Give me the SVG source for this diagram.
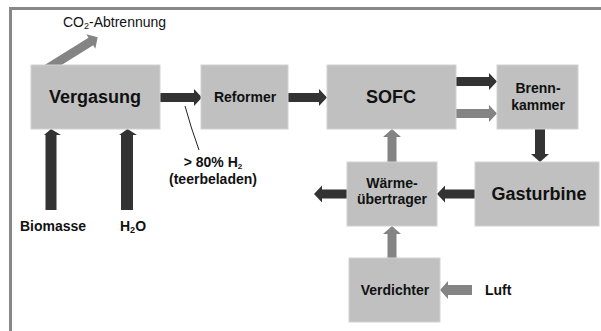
<svg xmlns="http://www.w3.org/2000/svg" width="601" height="331" viewBox="0 0 601 331">
<style>
.box{fill:#c0c0c0;stroke:#d2d2d2;stroke-width:1}
.t{font-family:"Liberation Sans",Arial,sans-serif;font-weight:bold;fill:#111;text-anchor:middle}
.big{font-size:18px}
.sm{font-size:14px}
.dark{fill:#333}
.gray{fill:#848484}
</style>
<rect width="601" height="331" fill="#fff"/>
<g id="frame" fill="#888">
<rect x="9" y="7" width="592" height="3"/>
<rect x="9" y="7" width="3" height="324"/>
</g>
<g id="connectors">
<path class="dark" d="M160,93 H194 V89 L202,97.5 L194,106 V102 H160 Z"/>
<path class="dark" d="M288,93 H319 V89 L327,97.5 L319,106 V102 H288 Z"/>
<path class="dark" d="M456,77 H489 V73 L497,81.5 L489,90 V86 H456 Z"/>
<path class="gray" d="M456,109 H489 V105 L497,113.5 L489,122 V118 H456 Z"/>
<path class="dark" d="M535,129 V154 H531 L540,162 L549,154 H545 V129 Z"/>
<path class="dark" d="M475,189.5 H445 V185.5 L437,194 L445,202.5 V198.5 H475 Z"/>
<path class="dark" d="M347,189.5 H322 V185.5 L314,194 L322,202.5 V198.5 H347 Z"/>
<path class="gray" d="M387.5,162 V137 H383 L392,129 L401,137 H396.5 V162 Z"/>
<path class="gray" d="M387.5,258 V234 H383 L392,226 L401,234 H396.5 V258 Z"/>
<path class="gray" d="M472,285 H448 V281 L440,290 L448,299 V295 H472 Z"/>
<path class="dark" d="M45.5,210 V135 H44 L51,129 L61,135 H56.5 V210 Z"/>
<path class="dark" d="M121,210 V135 H119 L127.5,129 L137,135 H133 V210 Z"/>
<g transform="translate(45,70) rotate(-31.9)">
<path class="gray" d="M0,-4.5 H54 V-8.5 L62,0 L54,8.5 V4.5 H0 Z"/>
</g>
<path d="M185,106 Q191,128 199,150" fill="none" stroke="#222" stroke-width="1"/>
</g>
<g id="vergasung">
<rect class="box" x="31" y="65" width="129" height="64"/>
<text class="t big" x="95" y="103">Vergasung</text>
</g>
<g id="reformer">
<rect class="box" x="201" y="65" width="87" height="64"/>
<text class="t sm" x="245" y="102">Reformer</text>
</g>
<g id="sofc">
<rect class="box" x="327" y="65" width="129" height="64"/>
<text class="t big" x="391" y="103">SOFC</text>
</g>
<g id="brennkammer">
<rect class="box" x="497" y="65" width="81" height="64"/>
<text class="t sm" x="538" y="93">Brenn-</text>
<text class="t sm" x="538" y="110">kammer</text>
</g>
<g id="gasturbine">
<rect class="box" x="475" y="162" width="124" height="64"/>
<text class="t big" x="539" y="200">Gasturbine</text>
</g>
<g id="waermeuebertrager">
<rect class="box" x="347" y="162" width="90" height="64"/>
<text class="t sm" x="392" y="188">Wärme-</text>
<text class="t sm" x="392" y="204">übertrager</text>
</g>
<g id="verdichter">
<rect class="box" x="349" y="258" width="91" height="64"/>
<text class="t sm" x="395" y="295">Verdichter</text>
</g>
<g id="labels">
<text x="63" y="27" font-family="Liberation Sans, Arial, sans-serif" font-size="14" fill="#111">CO<tspan font-size="9" dy="2">2</tspan><tspan dy="-2">-Abtrennung</tspan></text>
<text class="t sm" x="213" y="167">&gt; 80% H<tspan font-size="8" dy="1.5">2</tspan></text>
<text class="t sm" x="213" y="184">(teerbeladen)</text>
<text class="t sm" x="53" y="231">Biomasse</text>
<text class="t sm" x="133" y="231">H<tspan font-size="9" dy="2">2</tspan><tspan dy="-2">O</tspan></text>
<text class="t sm" x="485" y="295" style="text-anchor:start">Luft</text>
</g>
</svg>
